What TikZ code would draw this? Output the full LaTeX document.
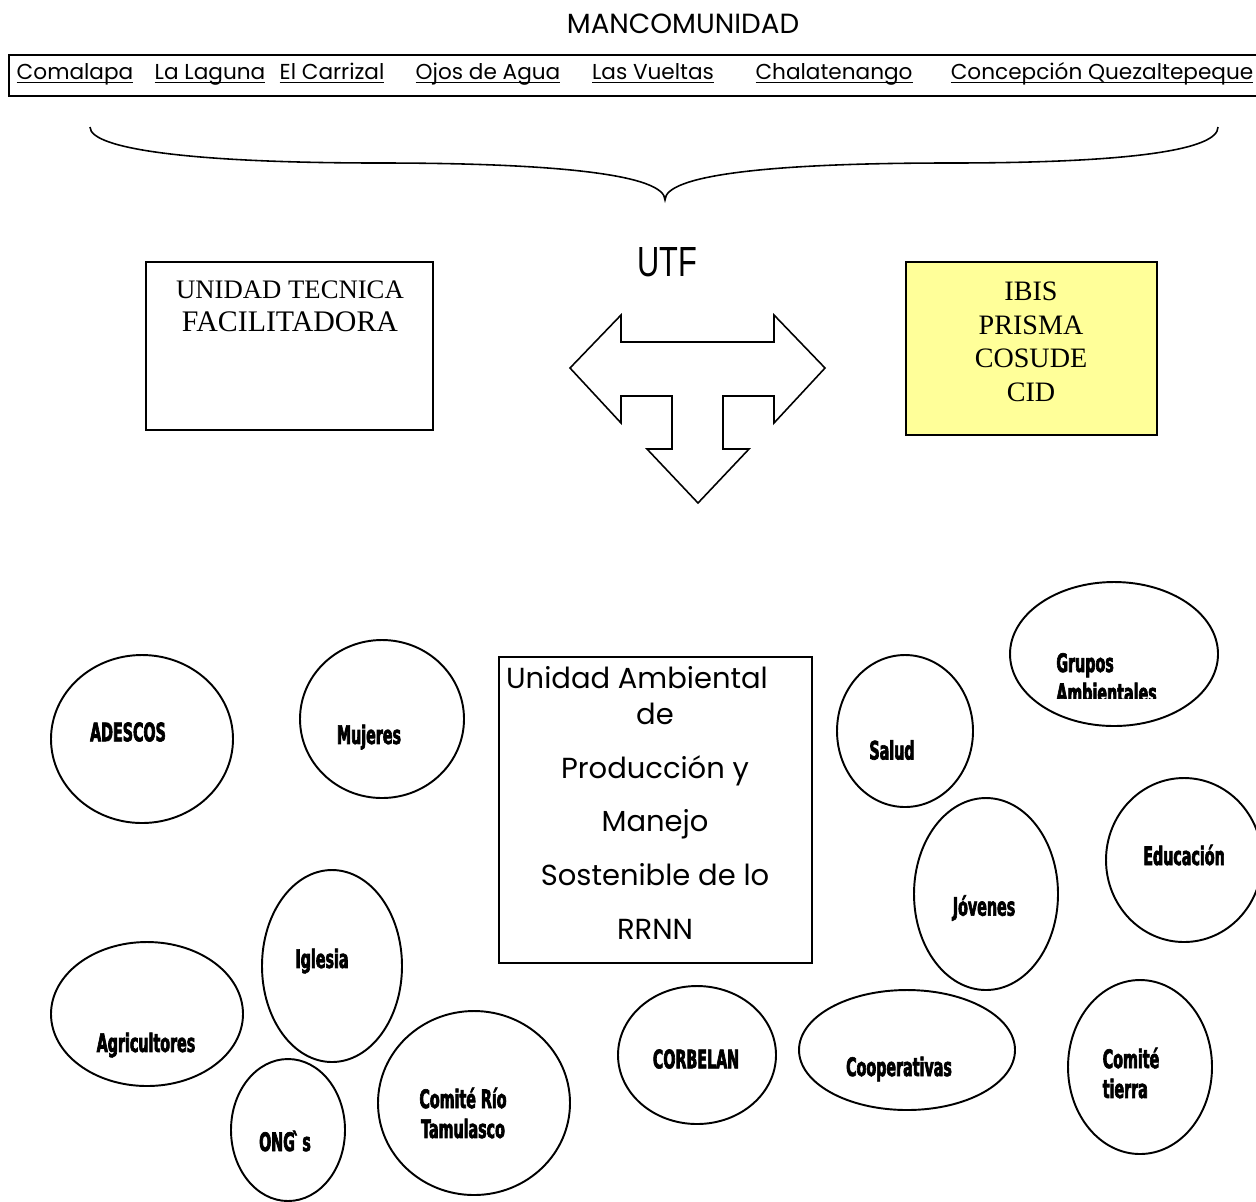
\documentclass[tikz,border=0pt]{standalone}
\usepackage{fontspec}
\setmainfont{Liberation Serif}
\newfontfamily\gothic{Poppins}
\newfontfamily\utffont[FakeStretch=0.73]{Liberation Sans}
\newfontfamily\impactfont[FakeStretch=0.56,FakeBold=2.5]{DejaVu Sans}
\definecolor{amarillo}{HTML}{FFFF99}
\newcommand\raya[1]{\setbox0\hbox{#1}\rlap{\rule[-2.5pt]{\wd0}{0.8pt}}\box0}
\tikzset{
  grupo/.style={draw,line width=1.1pt},
  etiqueta/.style={font=\impactfont\bfseries\fontsize{14.5}{17}\selectfont,inner sep=0pt},
  pueblo/.style={font=\gothic\fontsize{12.3}{15}\selectfont,inner sep=0pt,anchor=base},
}
\begin{document}
\begin{tikzpicture}[x=0.02cm,y=-0.02cm]
\useasboundingbox (0,0) rectangle (1256,1201);
% mancomunidad y municipios
\node[font=\gothic\fontsize{15.8}{18}\selectfont] (manc) at (683,24) {MANCOMUNIDAD};
\draw[line width=1.1pt] (9,55) rectangle (1262,96);
\node[pueblo] (comalapa) at (75,79) {\raya{Comalapa}};
\node[pueblo] (laguna) at (210,79) {\raya{La Laguna}};
\node[pueblo] (carrizal) at (332,79) {\raya{El Carrizal}};
\node[pueblo] (ojos) at (488,79) {\raya{Ojos de Agua}};
\node[pueblo] (vueltas) at (653,79) {\raya{Las Vueltas}};
\node[pueblo] (chalate) at (834,79) {\raya{Chalatenango}};
\node[pueblo] (concepcion) at (1102,79) {\raya{Concepción Quezaltepeque}};
% llave
\draw[line width=0.9pt] (90,127) .. controls (90,150) and (200,163) .. (380,163) .. controls (560,163) and (665,175) .. (665,200) .. controls (665,175) and (770,163) .. (950,163) .. controls (1130,163) and (1218,150) .. (1218,127);
% UTF
\node[font=\utffont\fontsize{24}{28}\selectfont] (utf) at (667,262) {UTF};
\draw[line width=0.9pt] (146,262) rectangle (433,430);
\node[font=\fontsize{15.2}{18}\selectfont,anchor=base] (utec) at (290,298) {UNIDAD TECNICA};
\node[font=\fontsize{17}{20}\selectfont,anchor=base] (facil) at (290,331) {FACILITADORA};
\draw[line width=0.9pt,fill=amarillo] (906,262) rectangle (1157,435);
\node[font=\fontsize{16}{19.1}\selectfont,align=center] (socios) at (1031,342) {IBIS\\PRISMA\\COSUDE\\CID};
\draw[line width=0.9pt] (570,368) -- (621,315) -- (621,342) -- (774,342) -- (774,315) -- (825,368) -- (774,423) -- (774,396) -- (723,396) -- (723,449) -- (749,449) -- (698,503) -- (647,449) -- (672,449) -- (672,396) -- (621,396) -- (621,423) -- cycle;
% unidad ambiental
\draw[line width=0.9pt] (499,657) rectangle (812,963);
\node[font=\gothic\fontsize{16.5}{30.6}\selectfont,align=center,anchor=north,inner sep=0pt] (unidad) at (655,666) {Unidad Ambiental\hspace*{0.72cm}\\[-10.2pt]de\\Producción y\\Manejo\\Sostenible de lo\\RRNN};
% grupos
\draw[grupo] (142,739) ellipse (91 and 84);
\node[etiqueta] (adescos) at (128,732) {ADESCOS};
\draw[grupo] (382,719) ellipse (82 and 79);
\node[etiqueta] (mujeres) at (369,737) {Mujeres};
\draw[grupo] (905,731) ellipse (68 and 76);
\node[etiqueta] (salud) at (892,750) {Salud};
\draw[grupo] (1114,654) ellipse (104 and 72);
\begin{scope}
\clip (1040,640) rectangle (1200,698);
\node[etiqueta,anchor=base west] (grupos) at (1056,672) {Grupos};
\node[etiqueta,anchor=base west] (ambientales) at (1056,702) {Ambientales};
\end{scope}
\draw[grupo] (1184,860) ellipse (78 and 82);
\node[etiqueta] (educacion) at (1184,855) {Educación};
\draw[grupo] (986,894) ellipse (72 and 96);
\node[etiqueta] (jovenes) at (984,908) {Jóvenes};
\draw[grupo] (332,966) ellipse (70 and 96);
\node[etiqueta] (iglesia) at (322,961) {Iglesia};
\draw[grupo] (147,1014) ellipse (96 and 72);
\node[etiqueta] (agricultores) at (146,1045) {Agricultores};
\draw[grupo] (288,1130) ellipse (57 and 71);
\node[etiqueta] (ongs) at (285,1141) {ONG\kern-1.5pt\textasciigrave\kern-1.5pt s};
\draw[grupo] (474,1103) ellipse (96 and 92);
\node[etiqueta,align=center] (tamulasco) at (463,1113) {Comité Río\\Tamulasco};
\draw[grupo] (697,1055) ellipse (79 and 69);
\node[etiqueta] (corbelan) at (696,1059) {CORBELAN};
\draw[grupo] (907,1050) ellipse (108 and 60);
\node[etiqueta] (cooperativas) at (899,1069) {Cooperativas};
\draw[grupo] (1140,1067) ellipse (72 and 87);
\node[etiqueta,align=left] (tierra) at (1131,1073) {Comité\\tierra};
\end{tikzpicture}
\end{document}
